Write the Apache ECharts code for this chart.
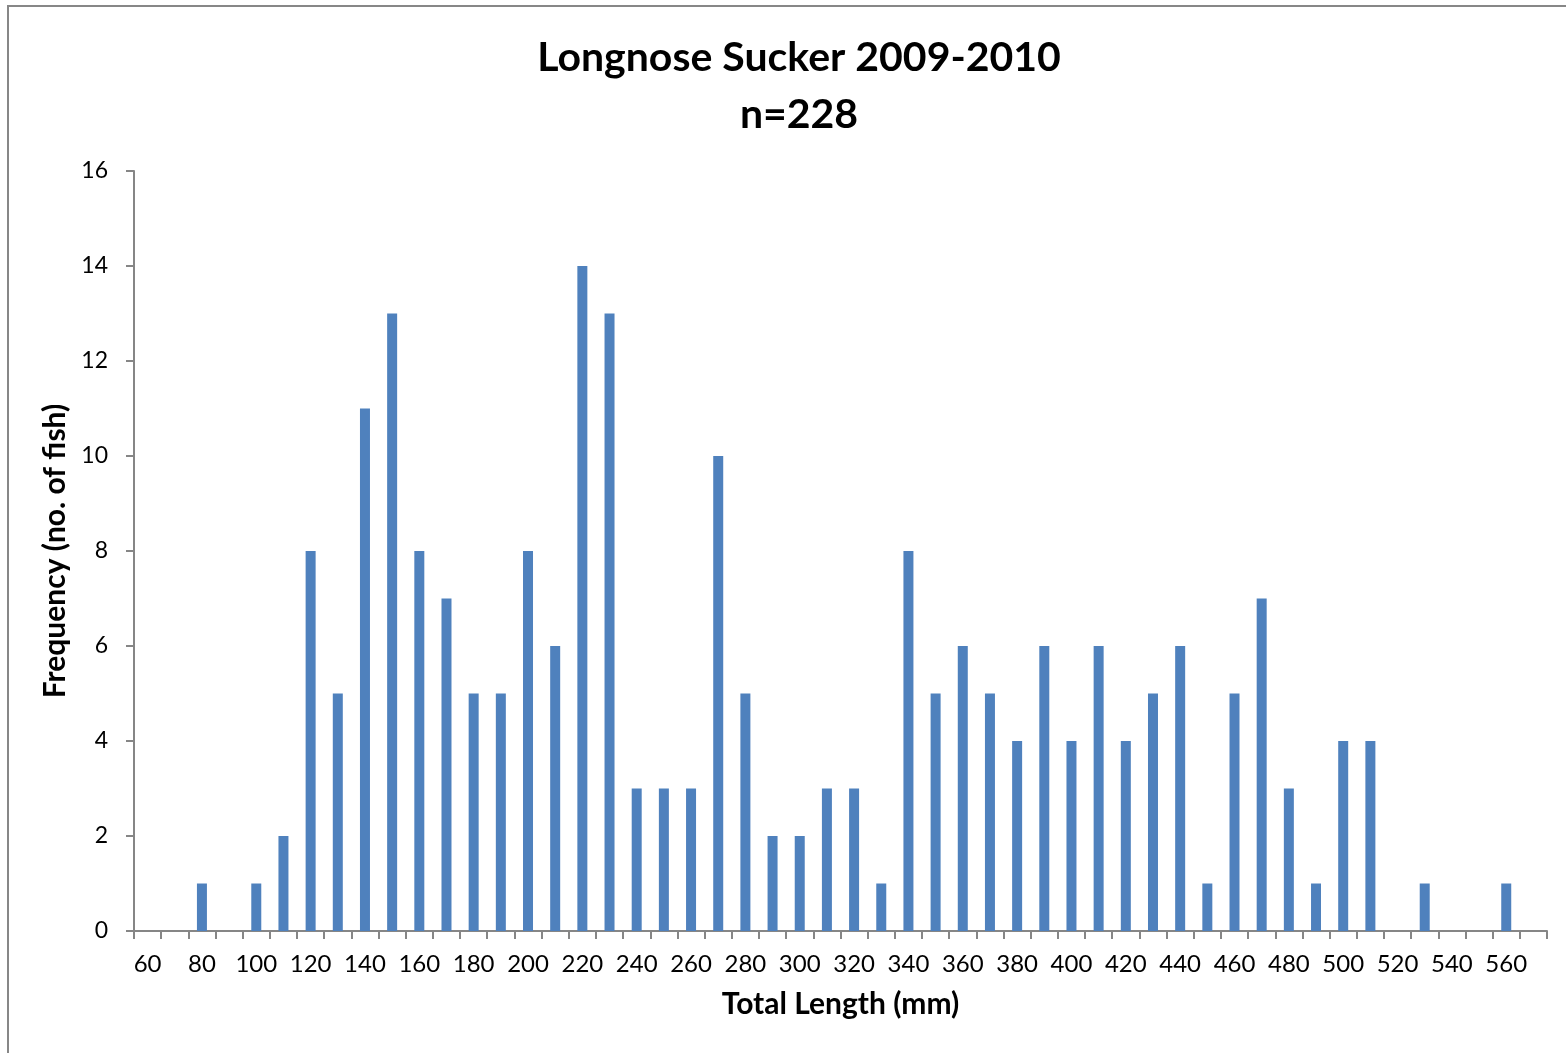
<!DOCTYPE html>
<html>
<head>
<meta charset="utf-8">
<title>Longnose Sucker 2009-2010</title>
<script src="https://cdn.jsdelivr.net/npm/echarts@6/dist/echarts.min.js"></script>
<style>
  html, body { margin: 0; padding: 0; background: #fff; }
  #chart { width: 1566px; height: 1053px; }
</style>
</head>
<body>
<div id="chart"></div>
<script>
// length classes (mm), 10 mm bins; the last one (570) is empty
const lengths = ['60', '70', '80', '90', '100', '110', '120', '130', '140', '150',
  '160', '170', '180', '190', '200', '210', '220', '230', '240', '250',
  '260', '270', '280', '290', '300', '310', '320', '330', '340', '350',
  '360', '370', '380', '390', '400', '410', '420', '430', '440', '450',
  '460', '470', '480', '490', '500', '510', '520', '530', '540', '550',
  '560', '570']

// number of fish per class (n = 228)
const frequency = [0, 0, 1, 0, 1, 2, 8, 5, 11, 13,
  8, 7, 5, 5, 8, 6, 14, 13, 3, 3,
  3, 10, 5, 2, 2, 3, 3, 1, 8, 5,
  6, 5, 4, 6, 4, 6, 4, 5, 6, 1,
  5, 7, 3, 1, 4, 4, 0, 1, 0, 0,
  1, 0]

const axisColor = '#868686'
const font = 'Lato, "Open Sans", sans-serif'

const chart = echarts.init(document.getElementById('chart'), null, { renderer: 'canvas' })

chart.setOption({
  animation: false,
  backgroundColor: '#fff',
  textStyle: { fontFamily: font },
  title: {
    text: 'Longnose Sucker 2009-2010\nn=228',
    left: 794,
    top: 24,
    textAlign: 'center',
    textStyle: {
      fontFamily: font,
      fontSize: 41,
      fontWeight: 'bold',
      color: '#000',
      lineHeight: 57
    }
  },
  graphic: [{
    // outer chart frame
    type: 'rect',
    shape: { x: 8, y: 6, width: 1600, height: 1100 },
    style: { fill: 'none', stroke: '#878787', lineWidth: 2 },
    silent: true
  }],
  grid: {
    left: 134,
    right: 19,
    top: 171,
    bottom: 122,
    containLabel: false
  },
  xAxis: {
    type: 'category',
    data: lengths,
    boundaryGap: true,
    name: 'Total Length (mm)',
    nameLocation: 'middle',
    nameGap: 58,
    nameTextStyle: {
      fontFamily: font,
      fontSize: 30,
      fontWeight: 'bold',
      color: '#000'
    },
    axisLine: { lineStyle: { color: axisColor, width: 2 } },
    axisTick: {
      show: true,
      interval: 0,
      alignWithLabel: false,
      length: 8,
      lineStyle: { color: axisColor, width: 2 }
    },
    axisLabel: {
      interval: 1,
      margin: 21,
      fontFamily: font,
      fontSize: 24,
      color: '#000'
    },
    splitLine: { show: false }
  },
  yAxis: {
    type: 'value',
    min: 0,
    max: 16,
    interval: 2,
    name: 'Frequency (no. of fish)',
    nameLocation: 'middle',
    nameGap: 52,
    nameTextStyle: {
      fontFamily: font,
      fontSize: 30,
      fontWeight: 'bold',
      color: '#000'
    },
    axisLine: { show: true, lineStyle: { color: axisColor, width: 2 } },
    axisTick: { show: true, length: 8, lineStyle: { color: axisColor, width: 2 } },
    axisLabel: {
      margin: 26,
      fontFamily: font,
      fontSize: 23,
      color: '#000'
    },
    splitLine: { show: false }
  },
  series: [{
    type: 'bar',
    data: frequency,
    barWidth: 10,
    itemStyle: { color: '#4F81BD' }
  }]
})
</script>
</body>
</html>
